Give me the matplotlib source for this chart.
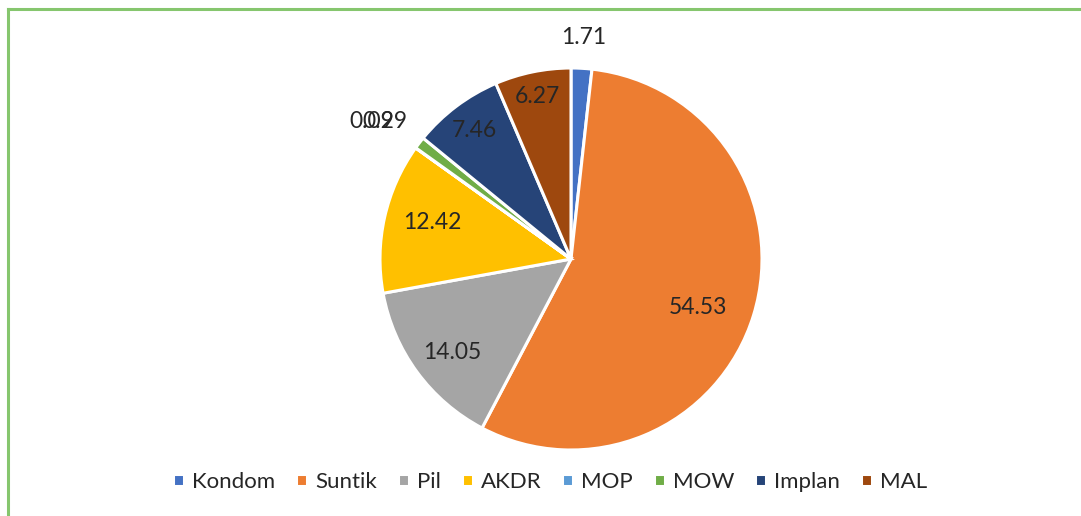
import numpy as np
import matplotlib.pyplot as plt
from matplotlib.lines import Line2D

labels = ["Kondom", "Suntik", "Pil", "AKDR", "MOP", "MOW", "Implan", "MAL"]
values = [1.71, 54.53, 14.05, 12.42, 0.02, 0.99, 7.46, 6.27]
value_text = ["1.71", "54.53", "14.05", "12.42", "0.02", "0.99", "7.46", "6.27"]

colors = ["#4472C4", "#ED7D31", "#A5A5A5", "#FFC000", "#5B9BD5", "#70AD47", "#264478", "#9E480E"]
# where each value label sits: radius fraction and angle nudge (deg)
label_r = [1.16, 0.71, 0.79, 0.75, 1.265, 1.21, 0.84, 0.87]
label_dang = [0, -4, 2, -2, 1, 1, 0, 0]

plt.rcParams['font.family'] = ['Lato', 'DejaVu Sans']

W, H = 1081, 516
fig = plt.figure(figsize=(W / 100, H / 100), dpi=100)
cx, cy, R = 571, 259, 191
ax = fig.add_axes([(cx - R) / W, (H - cy - R) / H, 2 * R / W, 2 * R / H])
wedges, _ = ax.pie(values, colors=colors, startangle=90, counterclock=False,
                   radius=1, wedgeprops=dict(edgecolor="white", linewidth=2.2))
ax.set_xlim(-1, 1)
ax.set_ylim(-1, 1)
ax.set_aspect("equal")
ax.axis("off")

for w, txt, r, da in zip(wedges, value_text, label_r, label_dang):
    ang = np.deg2rad((w.theta1 + w.theta2) / 2 + da)
    ax.text(r * np.cos(ang), r * np.sin(ang), txt, ha="center", va="center",
            fontsize=16.5, color="#262626", clip_on=False)

fig.legend(wedges, labels, loc="center", bbox_to_anchor=(550 / W, 1 - 482 / H),
           ncol=8, frameon=False, fontsize=16, handlelength=0.5, handleheight=0.5,
           handletextpad=0.35, columnspacing=0.95, labelcolor="#262626")

# green frame (top and left edges visible)
green = "#86C66E"
fig.add_artist(Line2D([8 / W, 1], [1 - 9 / H, 1 - 9 / H], color=green, lw=2.2))
fig.add_artist(Line2D([8 / W, 8 / W], [0, 1 - 9 / H], color=green, lw=2.2))

fig.savefig("out.png", dpi=100, facecolor="white")
